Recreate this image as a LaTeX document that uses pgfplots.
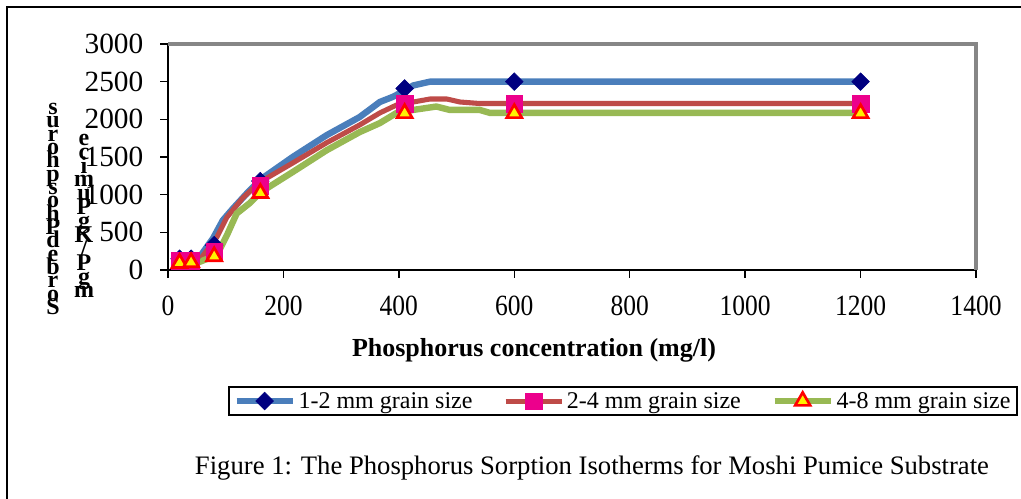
\documentclass[border=0pt]{standalone}
\usepackage{pgfplots}
\pgfplotsset{compat=1.18}
\usepackage{fontspec}
\setmainfont{Liberation Serif}
\definecolor{lblue}{HTML}{4A7EBB}
\definecolor{lred}{HTML}{BE4B48}
\definecolor{lgreen}{HTML}{98B954}
\definecolor{navyd}{HTML}{000080}
\definecolor{framegray}{HTML}{868686}
\newcommand\stackfontA{\bfseries\fontsize{18}{10}\selectfont\lineskiplimit=-100pt\relax}
\newcommand\stackfontB{\bfseries\fontsize{18}{10.4}\selectfont\lineskiplimit=-100pt\relax}
\begin{document}
\begin{tikzpicture}[x=0.75pt,y=0.75pt]
\useasboundingbox (0,0) rectangle (1021,499);
\draw[black, line width=2pt] (7,0) -- (7,492) -- (1021,492);
\begin{axis}[
  at={(126pt,171.75pt)}, anchor=south west,
  scale only axis, width=606pt, height=169.5pt,
  xmin=0, xmax=1400, ymin=0, ymax=3000,
  xtick={0,200,...,1400}, ytick={0,500,...,3000},
  axis x line*=bottom, axis y line*=left,
  axis line style={black, line width=1.1pt},
  tick style={black, line width=1pt},
  tick align=outside, major tick length=6pt,
  tick label style={font=\fontsize{22}{24}\selectfont},
  yticklabel style={xshift=-9pt},
  xticklabel style={yshift=-10pt},
  xticklabel={\scalebox{0.87}[1]{\pgfmathprintnumber{\tick}}},
  /pgf/number format/assume math mode=true,
  /pgf/number format/1000 sep={},
  xlabel={\bfseries Phosphorus concentration (mg/l)},
  xlabel style={font=\fontsize{19.5}{22}\selectfont, at={(axis description cs:0.453,-0.354)}, anchor=center},
  legend style={at={(axis description cs:0.5635,-0.58)}, anchor=center, draw=black, line width=1.5pt,
    font=\fontsize{18}{20}\selectfont, legend columns=3,
    /tikz/every even column/.append style={column sep=21pt}},
  legend cell align=left,
  legend image code/.code={\draw[mark repeat=2,mark phase=2,#1] plot coordinates {(0pt,0pt) (21pt,0pt) (42pt,0pt)};},
  clip=false,
]
% 1-2 mm
\addplot[lblue, line width=4.8pt, no marks, forget plot] coordinates {
 (20,150) (40,150) (55,175) (78,420) (95,660) (113,820) (137,1020) (160,1200) (216,1500) (275,1790) (332,2030) (367,2230) (390,2300) (410,2380) (425,2450) (454,2500) (600,2500) (1200,2500)};
\addplot[only marks, mark=square*, mark size=4.7pt, mark options={rotate=45, fill=navyd, draw=navyd, line width=0.4pt}, forget plot] coordinates {
 (20,150) (40,150) (80,330) (160,1180) (410,2410) (600,2500) (1200,2500)};
% 2-4 mm
\addplot[lred, line width=3.8pt, no marks, forget plot] coordinates {
 (20,120) (40,120) (55,133) (85,440) (102,700) (130,960) (160,1170) (216,1420) (275,1690) (332,1925) (367,2085) (396,2190) (425,2230) (454,2270) (483,2270) (506,2230) (540,2210) (1200,2210)};
\addplot[only marks, mark=square*, mark size=6.2pt, mark options={fill=magenta, draw=magenta, line width=0.4pt}, forget plot] coordinates {
 (20,120) (40,120) (80,250) (160,1120) (410,2210) (600,2210) (1200,2210)};
% 4-8 mm
\addplot[lgreen, line width=4.8pt, no marks, forget plot] coordinates {
 (20,90) (40,90) (50,93) (85,200) (102,460) (119,750) (142,890) (160,1030) (216,1300) (275,1590) (332,1830) (367,1950) (396,2085) (425,2125) (465,2170) (488,2125) (540,2125) (558,2085) (1200,2085)};
\addplot[only marks, mark=triangle*, mark size=6.5pt, mark options={fill=yellow, draw=red, line width=2pt}, forget plot] coordinates {
 (20,90) (40,100) (80,180) (160,1020) (410,2080) (600,2080) (1200,2080)};
\draw[framegray, line width=2.3pt] (rel axis cs:0,1) -- (rel axis cs:1,1) -- (rel axis cs:1,0);
\addlegendimage{lblue, line width=4.8pt, mark=square*, mark size=4.7pt, mark options={rotate=45, fill=navyd, draw=navyd, line width=0.4pt}}
\addlegendentry{1-2 mm grain size}
\addlegendimage{lred, line width=3.8pt, mark=square*, mark size=6.2pt, mark options={fill=magenta, draw=magenta, line width=0.4pt}}
\addlegendentry{2-4 mm grain size}
\addlegendimage{lgreen, line width=4.8pt, mark=triangle*, mark size=6.5pt, mark options={fill=yellow, draw=red, line width=2pt}}
\addlegendentry{4-8 mm grain size}
\end{axis}
\node[font=\stackfontA, align=center, inner sep=0pt] at (53,290) {s\\u\\r\\o\\h\\p\\s\\o\\h\\P\\d\\e\\b\\r\\o\\S};
\node[font=\stackfontB, align=center, inner sep=0pt] at (84,283) {e\\c\\i\\m\\u\\P\\g\\K\\/\\P\\g\\m};
\node[font=\fontsize{20}{22}\selectfont, inner sep=0pt] at (592,31) {Figure 1: The Phosphorus Sorption Isotherms for Moshi Pumice Substrate};
\end{tikzpicture}
\end{document}
